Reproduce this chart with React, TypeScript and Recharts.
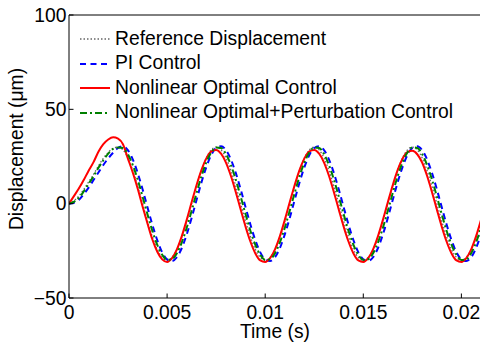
import React from 'react';
import { LineChart, Line, XAxis, YAxis, Legend, ReferenceLine } from 'recharts';

const FONT = '"Liberation Sans", Arial, Helvetica, sans-serif';
const FONT_SIZE = 19.3;

// time samples (s)
const TIME = [
  0, 0.00025, 0.0005, 0.00075, 0.001, 0.00125, 0.0015, 0.00175, 0.002, 0.00225,
  0.0025, 0.00275, 0.003, 0.00325, 0.0035, 0.00375, 0.004, 0.00425, 0.0045, 0.00475,
  0.005, 0.00525, 0.0055, 0.00575, 0.006, 0.00625, 0.0065, 0.00675, 0.007, 0.00725,
  0.0075, 0.00775, 0.008, 0.00825, 0.0085, 0.00875, 0.009, 0.00925, 0.0095, 0.00975,
  0.01, 0.01025, 0.0105, 0.01075, 0.011, 0.01125, 0.0115, 0.01175, 0.012, 0.01225,
  0.0125, 0.01275, 0.013, 0.01325, 0.0135, 0.01375, 0.014, 0.01425, 0.0145, 0.01475,
  0.015, 0.01525, 0.0155, 0.01575, 0.016, 0.01625, 0.0165, 0.01675, 0.017, 0.01725,
  0.0175, 0.01775, 0.018, 0.01825, 0.0185, 0.01875, 0.019, 0.01925, 0.0195, 0.01975,
  0.02, 0.02025, 0.0205, 0.02075, 0.021,
];

// displacement (um)
const REFERENCE = [
  0, 1.5, 4, 7.5, 11.5, 15.5, 20, 24, 27.2, 29.3,
  30, 28.5, 24.3, 17.6, 9.3, 0, -9.3, -17.6, -24.3, -28.5,
  -30, -28.5, -24.3, -17.6, -9.3, 0, 9.3, 17.6, 24.3, 28.5,
  30, 28.5, 24.3, 17.6, 9.3, 0, -9.3, -17.6, -24.3, -28.5,
  -30, -28.5, -24.3, -17.6, -9.3, 0, 9.3, 17.6, 24.3, 28.5,
  30, 28.5, 24.3, 17.6, 9.3, 0, -9.3, -17.6, -24.3, -28.5,
  -30, -28.5, -24.3, -17.6, -9.3, 0, 9.3, 17.6, 24.3, 28.5,
  30, 28.5, 24.3, 17.6, 9.3, 0, -9.3, -17.6, -24.3, -28.5,
  -30, -28.5, -24.3, -17.6, -9.3,
];

const PI_CONTROL = [
  0, 0.5, 2, 5, 8.5, 12.5, 16.5, 20.5, 24, 27,
  29.5, 30.4, 28.4, 23.5, 16.3, 7.6, -1.9, -11.2, -19.4, -25.8,
  -29.5, -30.4, -28.4, -23.5, -16.3, -7.6, 1.9, 11.2, 19.4, 25.8,
  29.5, 30.4, 28.4, 23.5, 16.3, 7.6, -1.9, -11.2, -19.4, -25.8,
  -29.5, -30.4, -28.4, -23.5, -16.3, -7.6, 1.9, 11.2, 19.4, 25.8,
  29.5, 30.4, 28.4, 23.5, 16.3, 7.6, -1.9, -11.2, -19.4, -25.8,
  -29.5, -30.4, -28.4, -23.5, -16.3, -7.6, 1.9, 11.2, 19.4, 25.8,
  29.5, 30.4, 28.4, 23.5, 16.3, 7.6, -1.9, -11.2, -19.4, -25.8,
  -29.5, -30.4, -28.4, -23.5, -16.3,
];

const NONLINEAR = [
  0, 4, 8, 12.5, 17.5, 22, 27.5, 31.5, 34, 35.2,
  34.5, 31.5, 24, 16.5, 8, -1.5, -10.5, -19, -25.5, -29.5,
  -30.9, -28.9, -24.2, -17.2, -8.6, 0.7, 9.8, 17.8, 24, 27.7,
  28.5, 26.5, 21.8, 14.8, 6.2, -3.1, -12.2, -20.2, -26.4, -30.1,
  -30.9, -28.9, -24.2, -17.2, -8.6, 0.7, 9.8, 17.8, 24, 27.7,
  28.5, 26.5, 21.8, 14.8, 6.2, -3.1, -12.2, -20.2, -26.4, -30.1,
  -30.9, -28.9, -24.2, -17.2, -8.6, 0.7, 9.8, 17.8, 23.8, 27.3,
  28, 26.2, 21.8, 14.8, 6.2, -3.1, -12.2, -20.2, -26.4, -30.1,
  -30.9, -28.9, -24.2, -17.2, -8.6,
];

const PERTURBATION = [
  0, 1, 3, 6.5, 10.5, 14.5, 19, 23, 26.5, 29,
  29.8, 29.5, 26.3, 20.5, 12.8, 3.8, -5.6, -14.5, -21.9, -27.1,
  -29.8, -29.5, -26.3, -20.5, -12.8, -3.8, 5.6, 14.5, 21.9, 27.1,
  29.8, 29.5, 26.3, 20.5, 12.8, 3.8, -5.6, -14.5, -21.9, -27.1,
  -29.8, -29.5, -26.3, -20.5, -12.8, -3.8, 5.6, 14.5, 21.9, 27.1,
  29.8, 29.5, 26.3, 20.5, 12.8, 3.8, -5.6, -14.5, -21.9, -27.1,
  -29.8, -29.5, -26.3, -20.5, -12.8, -3.8, 5.6, 14.5, 21.9, 27.1,
  29.8, 29.5, 26.3, 20.5, 12.8, 3.8, -5.6, -14.5, -21.9, -27.1,
  -29.8, -29.5, -26.3, -20.5, -12.8,
];

const X_TICKS = [0, 0.005, 0.01, 0.015, 0.02];
const Y_TICKS = [-50, 0, 50, 100];

const data = TIME.map((t, i) => ({
  t,
  ref: REFERENCE[i],
  pi: PI_CONTROL[i],
  nl: NONLINEAR[i],
  nlp: PERTURBATION[i],
}));

const SERIES = [
  { key: 'ref', name: 'Reference Displacement', stroke: '#666666', width: 1.3, dash: '1.5 2' },
  { key: 'pi', name: 'PI Control', stroke: '#0000ff', width: 2, dash: '6 4.5' },
  { key: 'nl', name: 'Nonlinear Optimal Control', stroke: '#ff0000', width: 2, dash: undefined },
  { key: 'nlp', name: 'Nonlinear Optimal+Perturbation Control', stroke: '#008000', width: 2, dash: '7 3 2 3' },
];

const fmtX = (v: number) => (v === 0 ? '0' : String(v));
const fmtY = (v: number) => (v < 0 ? '\u2212' + Math.abs(v) : String(v));

const textStyle = { fontFamily: FONT, fontSize: FONT_SIZE, fill: '#000' };

const BottomTick = (props: any) => {
  const { x, y, payload } = props;
  return (
    <g>
      <line x1={x} y1={y} x2={x} y2={y - 4.5} stroke="#000" />
      <text x={x} y={y + 20.5} textAnchor="middle" {...textStyle}>
        {fmtX(payload.value)}
      </text>
    </g>
  );
};

const TopTick = (props: any) => {
  const { x, y } = props;
  return <line x1={x} y1={y} x2={x} y2={y + 4.5} stroke="#000" />;
};

const LeftTick = (props: any) => {
  const { x, y, payload } = props;
  return (
    <g>
      <line x1={x} y1={y} x2={x + 4.5} y2={y} stroke="#000" />
      <text x={x - 2.5} y={y + 6.8} textAnchor="end" {...textStyle}>
        {fmtY(payload.value)}
      </text>
    </g>
  );
};

const RightTick = (props: any) => {
  const { x, y } = props;
  return <line x1={x} y1={y} x2={x - 4.5} y2={y} stroke="#000" />;
};

const XLabel = () => (
  <text x={275} y={338} textAnchor="middle" {...textStyle}>
    Time (s)
  </text>
);

const YLabel = () => (
  <text x={23.3} y={149} textAnchor="middle" transform="rotate(-90, 23.3, 149)" {...textStyle}>
    Displacement (μm)
  </text>
);

const renderLegend = () => (
  <div style={{ fontFamily: FONT, fontSize: FONT_SIZE, color: '#000' }}>
    {SERIES.map((s) => (
      <div
        key={s.key}
        style={{ display: 'flex', alignItems: 'center', height: 24.5, whiteSpace: 'nowrap' }}
      >
        <svg width={30} height={6} style={{ display: 'block' }}>
          <line
            x1={0}
            y1={3}
            x2={30}
            y2={3}
            stroke={s.stroke}
            strokeWidth={s.width}
            strokeDasharray={s.dash}
          />
        </svg>
        <span style={{ marginLeft: 5, lineHeight: '24.5px' }}>{s.name}</span>
      </div>
    ))}
  </div>
);

export default function App() {
  return (
    <div
      style={{
        position: 'fixed',
        left: 0,
        top: 0,
        width: 480,
        height: 345,
        overflow: 'hidden',
        background: '#fff',
      }}
    >
      <LineChart
        width={500}
        height={345}
        data={data}
        margin={{ top: 15, right: 19, left: 0, bottom: 0 }}
      >
        <XAxis
          dataKey="t"
          type="number"
          domain={[0, 0.021]}
          ticks={X_TICKS}
          height={47}
          tickSize={0}
          tickMargin={0}
          tick={<BottomTick />}
          axisLine={{ stroke: '#000' }}
          allowDataOverflow
          label={XLabel}
        />
        <XAxis
          xAxisId="top"
          orientation="top"
          dataKey="t"
          type="number"
          domain={[0, 0.021]}
          ticks={X_TICKS}
          height={0}
          tickSize={0}
          tickMargin={0}
          tick={<TopTick />}
          axisLine={{ stroke: '#000' }}
          allowDataOverflow
        />
        <YAxis
          type="number"
          domain={[-50, 100]}
          ticks={Y_TICKS}
          width={69}
          tickSize={0}
          tickMargin={0}
          tick={<LeftTick />}
          axisLine={{ stroke: '#000' }}
          allowDataOverflow
          label={YLabel}
        />
        <YAxis
          yAxisId="right"
          orientation="right"
          type="number"
          domain={[-50, 100]}
          ticks={Y_TICKS}
          width={0}
          tickSize={0}
          tickMargin={0}
          tick={<RightTick />}
          axisLine={{ stroke: '#000' }}
          allowDataOverflow
        />
        <ReferenceLine y={100} stroke="#000" />
        {SERIES.map((s) => (
          <Line
            key={s.key}
            dataKey={s.key}
            name={s.name}
            type="monotone"
            stroke={s.stroke}
            strokeWidth={s.width}
            strokeDasharray={s.dash}
            dot={false}
            activeDot={false}
            isAnimationActive={false}
          />
        ))}
        <Legend
          layout="vertical"
          align="center"
          verticalAlign="middle"
          wrapperStyle={{ top: 26.75, left: 80, width: 'auto', height: 'auto' }}
          content={renderLegend}
        />
      </LineChart>
    </div>
  );
}
